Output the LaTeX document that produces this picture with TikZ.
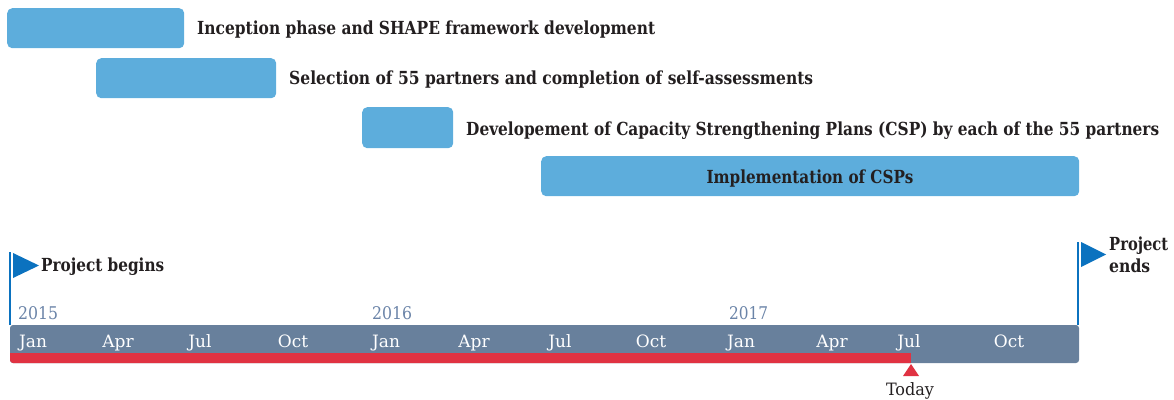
\documentclass[tikz,border=0pt]{standalone}
\usepackage{fontspec}
\usepackage{graphicx}
\setmainfont{DejaVu Serif}
\definecolor{barblue}{HTML}{5DADDC}
\definecolor{flagblue}{HTML}{0B72BF}
\definecolor{axisgray}{HTML}{68809C}
\definecolor{nowred}{HTML}{E03242}
\definecolor{yeartext}{HTML}{6B84A8}
\definecolor{ink}{HTML}{231F20}
% squeeze a text to a given width, keeping its height
\newcommand{\fitto}[2]{\resizebox{#1}{\height}{#2}}
\tikzset{
  phase/.style={fill=barblue, draw=none, rounded corners=5pt, anchor=north west, inner sep=0pt},
  phaselabel/.style={anchor=base west, inner sep=0pt, text=ink, font=\bfseries\fontsize{18}{22}\selectfont},
  month/.style={anchor=base, inner sep=0pt, text=white, font=\fontsize{17}{20}\selectfont},
  year/.style={anchor=base west, inner sep=0pt, text=yeartext, font=\fontsize{17.5}{20}\selectfont},
  pole/.style={draw=flagblue, line width=1.4pt},
  flag/.style={fill=flagblue, draw=none},
}
\begin{document}
\begin{tikzpicture}[x=1pt,y=-1pt]
\useasboundingbox (0,0) rectangle (1174,399);

% phase bars
\node[phase, minimum width=177pt, minimum height=40pt] (p1) at (7,8) {};
\node[phase, minimum width=180pt, minimum height=40pt] (p2) at (96,58) {};
\node[phase, minimum width=91pt, minimum height=41pt] (p3) at (362,107) {};
\node[phase, minimum width=538pt, minimum height=40pt] (p4) at (541,156) {};

% phase labels
\node[phaselabel] (l1) at (197,34) {\fitto{458pt}{Inception phase and SHAPE framework development}};
\node[phaselabel] (l2) at (289,84) {\fitto{524pt}{Selection of 55 partners and completion of self-assessments}};
\node[phaselabel] (l3) at (466,135.5) {\fitto{693pt}{Developement of Capacity Strengthening Plans (CSP) by each of the 55 partners}};
\node[phaselabel, anchor=base] (l4) at (810,183) {\fitto{207pt}{Implementation of CSPs}};

% time axis
\fill[axisgray, rounded corners=3pt] (10,325) rectangle (1079,363);
\begin{scope}
  \clip[rounded corners=3pt] (10,325) rectangle (1079,363);
  \fill[nowred] (10,353) rectangle (911,364);
\end{scope}
\coordinate (axisstart) at (10,325);
\coordinate (axisend) at (1078,325);

% months
\foreach \x/\m [count=\i] in {33/Jan,118/Apr,200/Jul,293/Oct,386/Jan,474/Apr,560/Jul,651/Oct,741/Jan,832/Apr,909/Jul,1009/Oct}
  \node[month] (m\i) at (\x,347.5) {\m};

% years
\node[year] (y15) at (18,319) {\fitto{40pt}{2015}};
\node[year] (y16) at (372,319) {\fitto{40pt}{2016}};
\node[year] (y17) at (729,319) {\fitto{39pt}{2017}};

% start flag
\coordinate (begtop) at (10,252);
\draw[pole] (axisstart) -- (begtop);
\fill[flag] (13,253) -- (39,265.5) -- (13,278) -- cycle;
\node[phaselabel] (beg) at (41,271) {\fitto{123pt}{Project begins}};

% end flag
\coordinate (endtop) at (1078,242);
\draw[pole] (axisend) -- (endtop);
\fill[flag] (1081,242) -- (1106,254.5) -- (1081,267) -- cycle;
\node[phaselabel] (end1) at (1109,250) {\fitto{59pt}{Project}};
\node[phaselabel] (end2) at (1109,272.5) {\fitto{41pt}{ends}};

% today marker
\fill[nowred] (911,364) -- (919,376) -- (903,376) -- cycle;
\node[anchor=base, inner sep=0pt, text=ink, font=\fontsize{17}{20}\selectfont] (today) at (910,395.5) {\fitto{48pt}{Today}};
\end{tikzpicture}
\end{document}
